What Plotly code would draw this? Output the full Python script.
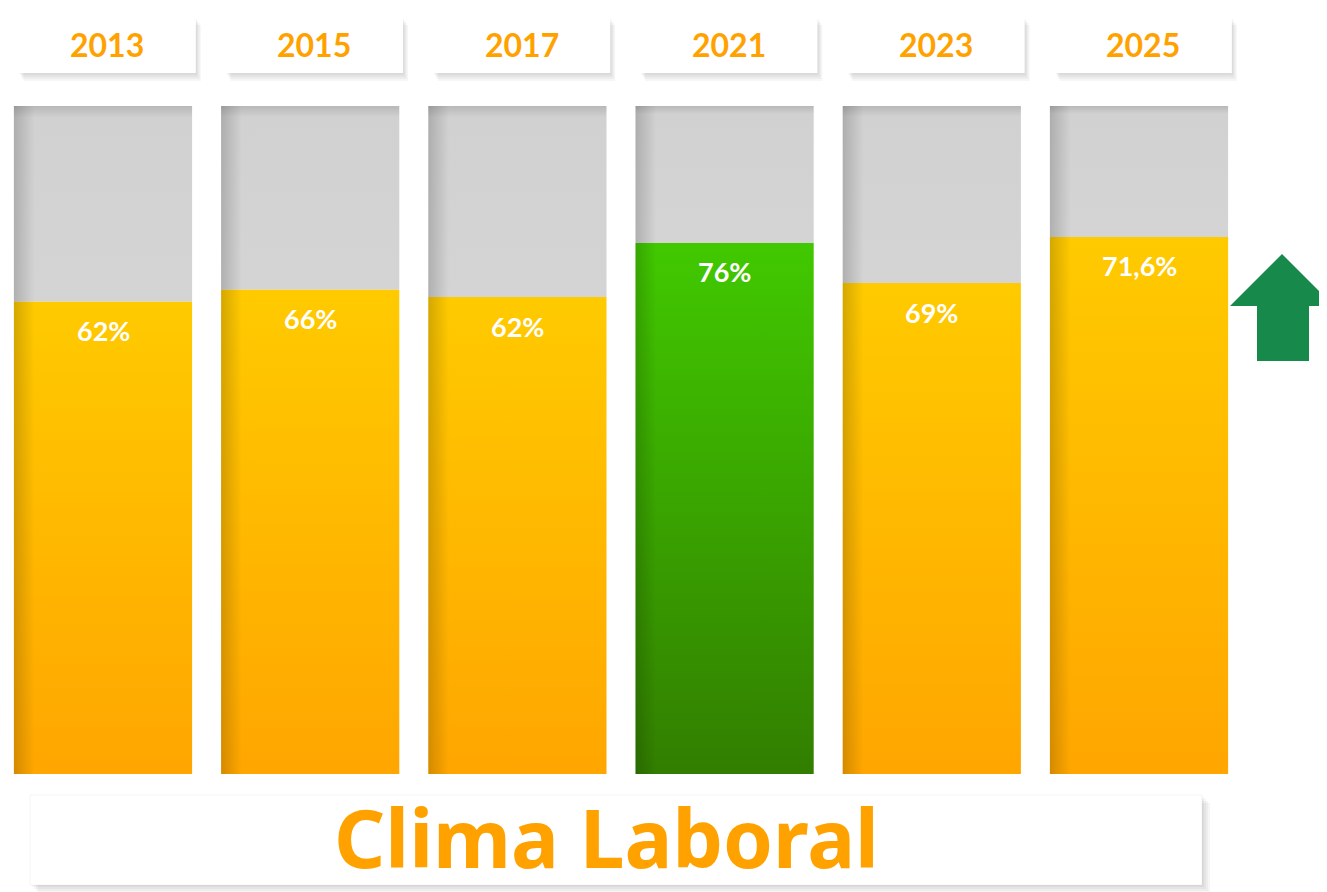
import plotly.graph_objects as go

# ---------------- data ----------------
years = ["2013", "2015", "2017", "2021", "2023", "2025"]
value_labels = ["62%", "66%", "62%", "76%", "69%", "71,6%"]
# visual height of the coloured part of each bar (% of full bar)
fill_height = [70.7, 72.5, 71.4, 79.5, 73.5, 80.4]
highlight = [False, False, False, True, False, False]
title_text = "Clima Laboral"

# ---------------- layout constants ----------------
OFF = 8                      # page body margin of the html page
W, H = 1327 - OFF, 892 - OFF
BAR_W = 0.86
STEP = 207.2                 # pixels between bar centres
X0_PX = 103 - OFF            # pixel of first bar centre
Y0_PX, Y100_PX = 774 - OFF, 106 - OFF
PPU = (Y0_PX - Y100_PX) / 100
X_RANGE = [-X0_PX / STEP, (W - X0_PX) / STEP]
Y_RANGE = [-(H - Y0_PX) / PPU, Y0_PX / PPU]
FONT = "Lato"
ORANGE = "#FFA200"


def px_x(p):
    return (p - OFF) / W


def px_y(p):
    return 1 - (p - OFF) / H


fig = go.Figure()


def rect(x0, x1, y0, y1):
    return [x0, x1, x1, x0, x0], [y0, y0, y1, y1, y0]


for i, (v, hl) in enumerate(zip(fill_height, highlight)):
    left, right = i - BAR_W / 2, i + BAR_W / 2
    # grey remainder up to 100 %
    xs, ys = rect(left, right, v, 100)
    fig.add_trace(go.Scatter(
        x=xs, y=ys, fill="toself", mode="none", hoverinfo="skip", showlegend=False,
        fillgradient=dict(type="vertical", start=v, stop=100,
                          colorscale=[[0, "#D5D4D5"], [0.94, "#D2D1D2"], [1, "#B9B8B9"]])))
    # coloured value part
    cs = [[0, "#327E00"], [1, "#41C900"]] if hl else [[0, "#FFA600"], [1, "#FFCA00"]]
    xs, ys = rect(left, right, 0, v)
    fig.add_trace(go.Scatter(
        x=xs, y=ys, fill="toself", mode="none", hoverinfo="skip", showlegend=False,
        fillgradient=dict(type="vertical", start=0, stop=v, colorscale=cs)))
    # darker left edge
    xs, ys = rect(left, left + 0.1, 0, 100)
    fig.add_trace(go.Scatter(
        x=xs, y=ys, fill="toself", mode="none", hoverinfo="skip", showlegend=False,
        fillgradient=dict(type="horizontal", start=left, stop=left + 0.1,
                          colorscale=[[0, "rgba(0,0,0,0.17)"], [1, "rgba(0,0,0,0)"]])))

shapes = []
annotations = []

# value labels
for i, (v, lab) in enumerate(zip(fill_height, value_labels)):
    annotations.append(dict(x=i, y=v, xref="x", yref="y", text=f"<b>{lab}</b>",
                            showarrow=False, yshift=-29,
                            font=dict(family=FONT, size=27, color="white")))

# year header boxes
BOX_TOP, BOX_BOT = 17, 73
for i, yr in enumerate(years):
    cx = i + 0.02
    x0, x1 = cx - 0.428, cx + 0.428
    for dx, dy in [(0.006, 2), (0.012, 4), (0.018, 6), (0.024, 8)]:
        shapes.append(dict(type="rect", xref="x", yref="paper",
                           x0=x0 + dx, x1=x1 + dx,
                           y0=px_y(BOX_BOT + dy), y1=px_y(BOX_TOP + dy),
                           fillcolor="rgba(0,0,0,0.035)", line=dict(width=0), layer="below"))
    shapes.append(dict(type="rect", xref="x", yref="paper", x0=x0, x1=x1,
                       y0=px_y(BOX_BOT), y1=px_y(BOX_TOP),
                       fillcolor="white", line=dict(width=0), layer="below"))
    annotations.append(dict(x=cx, y=px_y((BOX_TOP + BOX_BOT) / 2), xref="x", yref="paper",
                            text=f"<b>{yr}</b>", showarrow=False, yanchor="middle",
                            font=dict(family=FONT, size=32, color=ORANGE)))

# title box
TX0, TX1, TY0, TY1 = 30, 1202, 795, 885
for dx, dy in [(2, 2), (4, 4), (6, 6), (8, 8)]:
    shapes.append(dict(type="rect", xref="paper", yref="paper",
                       x0=px_x(TX0 + dx), x1=px_x(TX1 + dx),
                       y0=px_y(TY1 + dy), y1=px_y(TY0 + dy),
                       fillcolor="rgba(0,0,0,0.035)", line=dict(width=0), layer="below"))
shapes.append(dict(type="rect", xref="paper", yref="paper",
                   x0=px_x(TX0), x1=px_x(TX1), y0=px_y(TY1), y1=px_y(TY0),
                   fillcolor="white", line=dict(color="rgba(0,0,0,0.04)", width=1), layer="below"))
annotations.append(dict(x=px_x(606), y=0, xref="paper", yref="paper",
                        text=f"<b>{title_text}</b>", showarrow=False, borderpad=0,
                        xanchor="center", yanchor="bottom",
                        font=dict(family="Noto Sans", size=80, color=ORANGE, weight=800)))

# green up arrow
arrow_px = [(1282, 254), (1334, 306), (1309, 306), (1309, 361),
            (1257, 361), (1257, 306), (1230, 306)]
path = "M " + " L ".join(f"{px_x(a)},{px_y(b)}" for a, b in arrow_px) + " Z"
shapes.append(dict(type="path", xref="paper", yref="paper", path=path,
                   fillcolor="#17894B", line=dict(width=0)))

fig.update_layout(
    width=W, height=H,
    margin=dict(l=0, r=0, t=0, b=0),
    paper_bgcolor="white", plot_bgcolor="white",
    xaxis=dict(range=X_RANGE, visible=False, fixedrange=True),
    yaxis=dict(range=Y_RANGE, visible=False, fixedrange=True),
    shapes=shapes, annotations=annotations,
    showlegend=False,
)

fig.write_html("out.html")
